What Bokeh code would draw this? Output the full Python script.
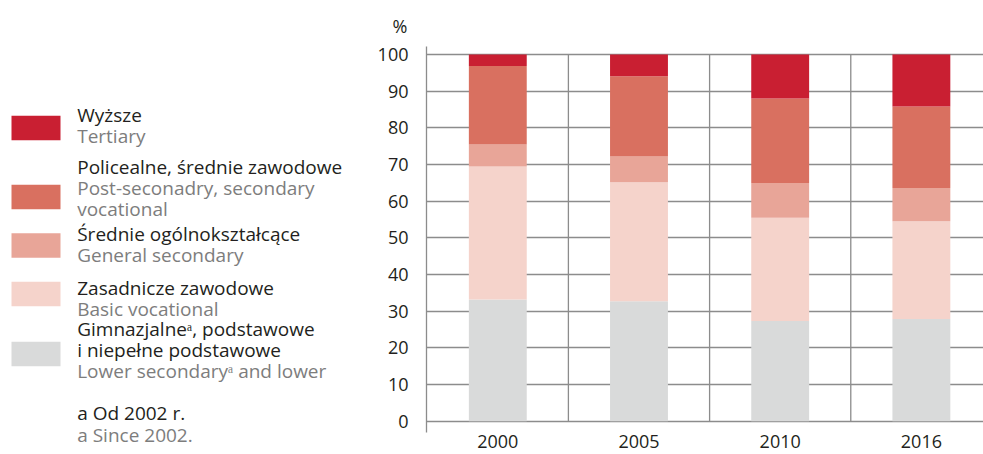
from bokeh.plotting import figure
from bokeh.layouts import row
from bokeh.models import Range1d, FixedTicker, ColumnDataSource, Title
from bokeh.core.properties import value
from bokeh.embed import file_html
from bokeh.resources import INLINE

# ---------------- data ----------------
years = ["2000", "2005", "2010", "2016"]
lower = [33.2, 32.7, 27.3, 27.9]       # Gimnazjalne, podstawowe i niepełne podstawowe
basic = [36.3, 32.5, 28.2, 26.6]       # Zasadnicze zawodowe
general = [6.0, 7.0, 9.5, 9.1]         # Średnie ogólnokształcące
postsec = [21.4, 21.9, 23.0, 22.2]     # Policealne, średnie zawodowe
tertiary = [3.1, 5.9, 12.0, 14.2]      # Wyższe
y_ticks = [0, 10, 20, 30, 40, 50, 60, 70, 80, 90, 100]

series_keys = ["lower", "basic", "general", "postsec", "tertiary"]
colors = ["#d9dada", "#f5d3cb", "#e8a598", "#d97060", "#c91f32"]

legend_colors = ["#c91f32", "#d97060", "#e8a598", "#f5d3cb", "#d9dada"]
legend_pl = [["Wyższe"],
             ["Policealne, średnie zawodowe"],
             ["Średnie ogólnokształcące"],
             ["Zasadnicze zawodowe"],
             ["Gimnazjalneᵃ, podstawowe", "i niepełne podstawowe"]]
legend_en = [["Tertiary"],
             ["Post-seconadry, secondary", "vocational"],
             ["General secondary"],
             ["Basic vocational"],
             ["Lower secondaryᵃ and lower"]]
note_pl = "a Od 2002 r."
note_en = "a Since 2002."

FONT = "Open Sans"
DARK = "#231f20"
GREY_TXT = "#7d7d7d"
GRID = "#8c8c8c"
H = 454
TOP = 46

# ---------------- chart ----------------
x = list(range(len(years)))
src = ColumnDataSource(dict(x=x, lower=lower, basic=basic, general=general,
                            postsec=postsec, tertiary=tertiary))

p = figure(width=613, height=H, output_backend="svg", toolbar_location=None,
           x_range=Range1d(-0.505, 3.44), y_range=Range1d(-9.09, 102.2),
           x_axis_type=None,
           min_border_left=56, min_border_right=0, min_border_top=TOP,
           min_border_bottom=0)
p.outline_line_color = None
p.background_fill_color = "white"
p.border_fill_color = "white"

p.vbar_stack(series_keys, x="x", width=0.41, color=colors, line_color=None,
             source=src)

# vertical separators between categories
sep_x = [i + 0.5 for i in range(len(years) - 1)]
p.segment(x0=sep_x, y0=[y_ticks[0]] * len(sep_x), x1=sep_x,
          y1=[y_ticks[-1]] * len(sep_x), line_color=GRID, line_width=1.3,
          level="underlay")

# category labels
p.text(x=x, y=[y_ticks[0] - 5.6] * len(x), text=years, text_font=value(FONT),
       text_font_size="18px", text_color=DARK, text_align="center",
       text_baseline="middle")

p.xgrid.visible = False
p.ygrid.ticker = FixedTicker(ticks=y_ticks)
p.ygrid.grid_line_color = GRID
p.ygrid.grid_line_width = 1.3

p.yaxis.ticker = FixedTicker(ticks=y_ticks)
p.yaxis.bounds = (-3, 102.2)
p.yaxis.axis_line_color = GRID
p.yaxis.axis_line_width = 1.3
p.yaxis.major_tick_line_color = None
p.yaxis.minor_tick_line_color = None
p.yaxis.major_label_standoff = 12
p.yaxis.major_label_text_font = FONT
p.yaxis.major_label_text_font_size = "18px"
p.yaxis.major_label_text_color = DARK

p.title = Title(text="%", align="left", offset=-34, standoff=17,
                text_font=FONT, text_font_size="18px", text_color=DARK,
                text_font_style="normal")

# ---------------- legend panel ----------------
LW = 370
lg = figure(width=LW, height=H, output_backend="svg", toolbar_location=None,
            x_range=Range1d(0, LW), y_range=Range1d(H, TOP),
            x_axis_type=None, y_axis_type=None,
            min_border_left=0, min_border_right=0,
            min_border_top=TOP, min_border_bottom=0)
lg.outline_line_color = None
lg.xgrid.visible = False
lg.ygrid.visible = False

sw_y = [127.5, 196.5, 245, 293.5, 353.5]
lg.rect(x=[35.5] * len(sw_y), y=sw_y, width=49, height=24.5,
        fill_color=legend_colors, line_color=None)

pl_y = [[114], [166], [233], [287], [328, 349]]
en_y = [[135], [187, 208], [254], [308], [370]]
TX = 76.7
py_, pt_ = [], []
for k in range(len(legend_pl)):
    for t, yy in zip(legend_pl[k], pl_y[k]):
        py_.append(yy); pt_.append(t)
ey_, et_ = [], []
for k in range(len(legend_en)):
    for t, yy in zip(legend_en[k], en_y[k]):
        ey_.append(yy); et_.append(t)
py_.append(412); pt_.append(note_pl)
ey_.append(434); et_.append(note_en)

lg.text(x=[TX] * len(py_), y=py_, text=pt_, text_font=value(FONT),
        text_font_size="19px", text_color=DARK, text_baseline="middle")
lg.text(x=[TX] * len(ey_), y=ey_, text=et_, text_font=value(FONT),
        text_font_size="19px", text_color=GREY_TXT, text_baseline="middle")

layout = row(lg, p, spacing=0)
open("out.html", "w").write(file_html(layout, INLINE))
